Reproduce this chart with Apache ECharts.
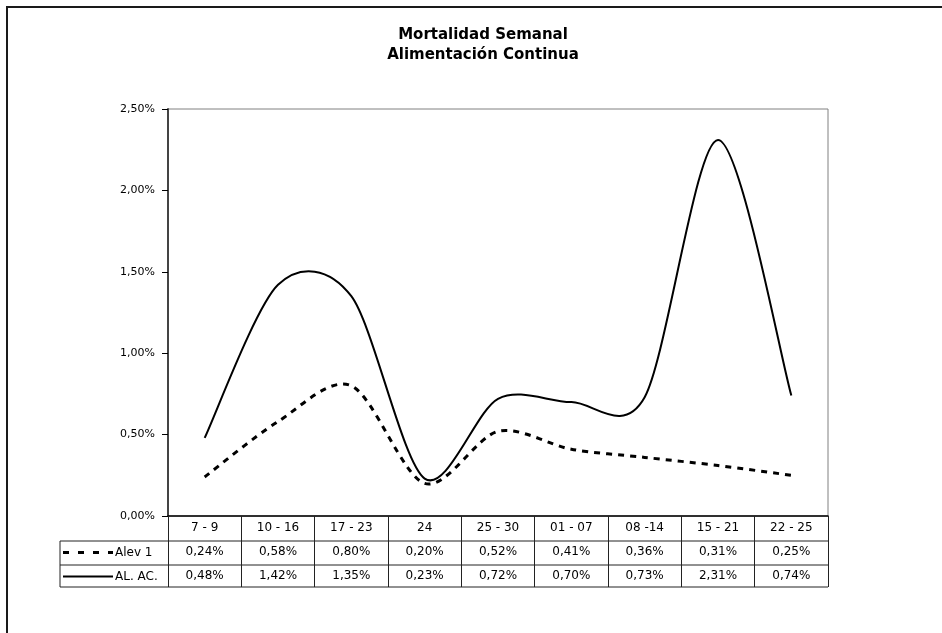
<!DOCTYPE html>
<html><head><meta charset="utf-8">
<script src="https://cdn.jsdelivr.net/npm/echarts@6/dist/echarts.min.js"></script>
<style>html,body{margin:0;padding:0;background:#fff}#c{width:942px;height:633px}</style>
</head><body><div id="c"></div>
<script>
const titleLines = ['Mortalidad Semanal', 'Alimentación Continua'];
const categories = ['7 - 9', '10 - 16', '17 - 23', '24', '25 - 30', '01 - 07', '08 -14', '15 - 21', '22 - 25'];
const seriesNames = ['Alev 1', 'AL. AC.'];
const alev1 = [0.24, 0.58, 0.80, 0.20, 0.52, 0.41, 0.36, 0.31, 0.25];
const alAc = [0.48, 1.42, 1.35, 0.23, 0.72, 0.70, 0.73, 2.31, 0.74];
const yMin = 0, yMax = 2.5, yStep = 0.5;

const fmt = v => v.toFixed(2).replace('.', ',') + '%';
const FONT = 'DejaVu Sans';
const G = { left: 168, right: 114, top: 109, bottom: 117 };
const W = 942, H = 633;
const plotBottom = H - G.bottom, plotRight = W - G.right;
const rowLines = [plotBottom + 25, plotBottom + 49, plotBottom + 71];
const rowMid = [plotBottom + 36.5, plotBottom + 60.5];
const tableLeft = 60;

const chart = echarts.init(document.getElementById('c'), null, { renderer: 'canvas' });

const graphics = [
  { type: 'rect', shape: { x: 7, y: 7, width: 1200, height: 1200 }, style: { fill: 'none', stroke: '#1a1a1a', lineWidth: 2 }, silent: true },
  { type: 'text', x: 483, y: 35.5, style: { text: titleLines[0], fontFamily: FONT, fontWeight: 'bold', fontSize: 15, fill: '#000', align: 'center', verticalAlign: 'middle' } },
  { type: 'text', x: 483, y: 55, style: { text: titleLines[1], fontFamily: FONT, fontWeight: 'bold', fontSize: 15, fill: '#000', align: 'center', verticalAlign: 'middle' } },
  // legend cells of the data table
  { type: 'line', shape: { x1: 63, y1: rowMid[0], x2: 113, y2: rowMid[0] }, style: { stroke: '#000', lineWidth: 3, lineDash: [6, 9] }, z: 10 },
  { type: 'text', x: 115, y: rowMid[0], style: { text: seriesNames[0], fontFamily: FONT, fontSize: 12, fill: '#000', align: 'left', verticalAlign: 'middle' }, z: 10 },
  { type: 'line', shape: { x1: 63, y1: rowMid[1], x2: 113, y2: rowMid[1] }, style: { stroke: '#000', lineWidth: 2 }, z: 10 },
  { type: 'text', x: 115, y: rowMid[1], style: { text: seriesNames[1], fontFamily: FONT, fontSize: 12, fill: '#000', align: 'left', verticalAlign: 'middle' }, z: 10 }
];
rowLines.forEach(y => graphics.push({ type: 'line', shape: { x1: tableLeft, y1: y, x2: plotRight, y2: y }, style: { stroke: '#222', lineWidth: 1 }, z: 10 }));
graphics.push({ type: 'line', shape: { x1: tableLeft, y1: rowLines[0], x2: tableLeft, y2: rowLines[2] }, style: { stroke: '#222', lineWidth: 1 }, z: 10 });

// smoothed curve (Catmull-Rom style, like the spreadsheet's smoothed line) through the axis coordinates
function curveSeries(name, values, lineWidth, lineDash, z) {
  return {
    name, type: 'custom', coordinateSystem: 'cartesian2d', z,
    data: values.map((v, i) => [i, v]), encode: { x: 0, y: 1 },
    renderItem: (params, api) => {
      if (params.dataIndex !== 0) return null;
      const pts = values.map((v, i) => api.coord([i, v]));
      const n = pts.length;
      const k = 0.15;
      let d = 'M' + pts[0][0] + ' ' + pts[0][1];
      for (let i = 0; i < n - 1; i++) {
        const p0 = pts[Math.max(i - 1, 0)], p1 = pts[i], p2 = pts[i + 1], p3 = pts[Math.min(i + 2, n - 1)];
        const c1 = [p1[0] + (p2[0] - p0[0]) * k, p1[1] + (p2[1] - p0[1]) * k];
        const c2 = [p2[0] - (p3[0] - p1[0]) * k, p2[1] - (p3[1] - p1[1]) * k];
        d += ' C' + c1[0] + ' ' + c1[1] + ' ' + c2[0] + ' ' + c2[1] + ' ' + p2[0] + ' ' + p2[1];
      }
      return { type: 'path', shape: { pathData: d }, style: { fill: 'none', stroke: '#000', lineWidth, lineDash: lineDash || null } };
    }
  };
}

chart.setOption({
  animation: false,
  backgroundColor: '#fff',
  graphic: graphics,
  grid: { left: G.left, right: G.right, top: G.top, bottom: G.bottom, show: true, borderColor: '#808080', borderWidth: 1, containLabel: false },
  xAxis: {
    type: 'category', data: categories, boundaryGap: true,
    axisLine: { lineStyle: { color: '#000', width: 1.5 } },
    axisTick: { show: true, length: 71, interval: 0, lineStyle: { color: '#222', width: 1 } },
    axisLabel: {
      interval: 0, margin: 0, lineHeight: 24, fontFamily: FONT, fontSize: 12, color: '#000',
      formatter: (v, i) => v + '\n' + fmt(alev1[i]) + '\n' + fmt(alAc[i])
    },
    splitLine: { show: false }
  },
  yAxis: {
    type: 'value', min: yMin, max: yMax, interval: yStep,
    axisLine: { show: true, lineStyle: { color: '#444', width: 2 } },
    axisTick: { show: true, length: 6, lineStyle: { color: '#000' } },
    axisLabel: { margin: 13, fontFamily: FONT, fontSize: 11, color: '#000', formatter: v => fmt(v) },
    splitLine: { show: false }
  },
  series: [
    curveSeries(seriesNames[0], alev1, 3, [6, 6], 3),
    curveSeries(seriesNames[1], alAc, 2, null, 4)
  ]
});
</script></body></html>
